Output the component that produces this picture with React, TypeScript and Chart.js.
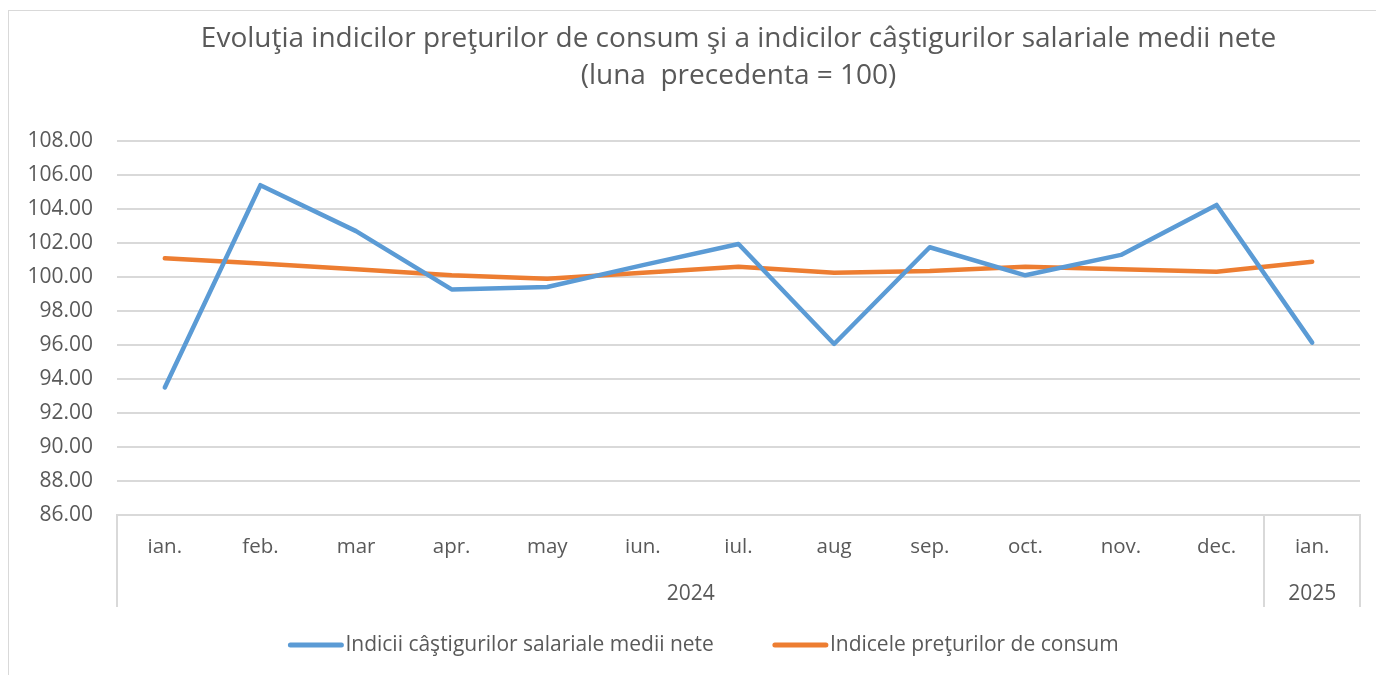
import React, { useEffect, useRef } from "react";
import { Chart, registerables } from "chart.js";

Chart.register(...registerables);

const months = ["ian.", "feb.", "mar", "apr.", "may", "iun.", "iul.", "aug", "sep.", "oct.", "nov.", "dec.", "ian."];
const yearLabels = ["2024", "2025"];
const yearSpans = [12, 1];

const wageIndex = [93.5, 105.4, 102.7, 99.27, 99.41, 100.7, 101.94, 96.06, 101.75, 100.1, 101.3, 104.24, 96.14];
const cpiIndex = [101.1, 100.8, 100.45, 100.1, 99.9, 100.25, 100.6, 100.25, 100.35, 100.6, 100.45, 100.31, 100.9];

const seriesNames = ["Indicii câştigurilor salariale medii nete", "Indicele preţurilor de consum"];
const titleLines = [
  "Evoluţia indicilor preţurilor de consum şi a indicilor câştigurilor salariale medii nete",
  "(luna  precedenta = 100)",
];

const TEXT = "#595959";
const GRID = "#d9d9d9";
const FONT = "'Open Sans'";

const groupAxisPlugin = {
  id: "groupAxis",
  afterDraw(chart: any) {
    const ctx = chart.ctx;
    const xs = chart.scales.x;
    const ca = chart.chartArea;
    const top = xs.top;
    const bottom = xs.bottom;
    const n = months.length;
    const boundaries: number[] = [xs.left];
    let idx = 0;
    yearSpans.forEach((span) => {
      idx += span;
      const px = idx >= n ? xs.right : (xs.getPixelForValue(idx - 1) + xs.getPixelForValue(idx)) / 2;
      boundaries.push(px);
    });
    ctx.save();
    ctx.strokeStyle = GRID;
    ctx.lineWidth = 2;
    boundaries.forEach((b) => {
      ctx.beginPath();
      ctx.moveTo(Math.round(b), top);
      ctx.lineTo(Math.round(b), bottom);
      ctx.stroke();
    });
    ctx.fillStyle = TEXT;
    ctx.font = `21px ${FONT}`;
    ctx.textAlign = "center";
    ctx.textBaseline = "middle";
    yearLabels.forEach((lab, i) => {
      const cx = (boundaries[i] + boundaries[i + 1]) / 2;
      ctx.fillText(lab, cx, top + 79);
    });

    // title, centred over the plot area
    ctx.font = `28px ${FONT}`;
    ctx.fillStyle = TEXT;
    ctx.textAlign = "center";
    ctx.textBaseline = "middle";
    const tcx = (ca.left + ca.right) / 2;
    titleLines.forEach((t, i) => {
      ctx.fillText(t, tcx, 28 + i * 37);
    });

    // legend
    const lineW = 55;
    const gapText = 2;
    const gapItems = 59;
    ctx.font = `21px ${FONT}`;
    const widths = chart.data.datasets.map((d: any) => lineW + gapText + ctx.measureText(d.label).width);
    const total = widths.reduce((a: number, b: number) => a + b, 0) + gapItems * (widths.length - 1);
    let x = chart.width / 2 + 7 - total / 2;
    const ly = bottom + 38;
    chart.data.datasets.forEach((d: any, i: number) => {
      ctx.strokeStyle = d.borderColor;
      ctx.lineWidth = 5;
      ctx.lineCap = "round";
      ctx.beginPath();
      ctx.moveTo(x + 2, ly);
      ctx.lineTo(x + lineW - 2, ly);
      ctx.stroke();
      ctx.fillStyle = TEXT;
      ctx.textAlign = "left";
      ctx.textBaseline = "middle";
      ctx.fillText(d.label, x + lineW + gapText, ly);
      x += widths[i] + gapItems;
    });
    ctx.restore();
  },
};

export default function App() {
  const ref = useRef<HTMLCanvasElement>(null);
  useEffect(() => {
    document.documentElement.style.overflow = "hidden";
    document.body.style.overflow = "hidden";
    const chart = new Chart(ref.current as HTMLCanvasElement, {
      type: "line",
      data: {
        labels: months,
        datasets: [
          {
            label: seriesNames[0],
            data: wageIndex,
            borderColor: "#5B9BD5",
            backgroundColor: "#5B9BD5",
            borderWidth: 4.5,
            borderCapStyle: "round",
            borderJoinStyle: "round",
            pointRadius: 0,
            tension: 0,
          },
          {
            label: seriesNames[1],
            data: cpiIndex,
            borderColor: "#ED7D31",
            backgroundColor: "#ED7D31",
            borderWidth: 4.5,
            borderCapStyle: "round",
            borderJoinStyle: "round",
            pointRadius: 0,
            tension: 0,
          },
        ],
      },
      options: {
        animation: false,
        responsive: false,
        layout: { padding: { left: 0, right: 24, top: 130, bottom: 68 } },
        plugins: {
          legend: { display: false },
          tooltip: { enabled: false },
          title: { display: false },
        },
        scales: {
          x: {
            type: "category",
            offset: true,
            grid: { display: false, drawTicks: false },
            border: { display: true, color: GRID, width: 2 },
            ticks: {
              color: TEXT,
              font: { family: FONT, size: 20.5 },
              padding: 20,
              maxRotation: 0,
              autoSkip: false,
            },
            afterFit: (scale: any) => {
              scale.height = 92;
            },
          },
          y: {
            min: 86,
            max: 108,
            grid: { color: GRID, lineWidth: 2, drawTicks: false },
            border: { display: false },
            ticks: {
              stepSize: 2,
              color: TEXT,
              font: { family: FONT, size: 21 },
              padding: 24,
              callback: (v: any) => Number(v).toFixed(2),
            },
            afterFit: (scale: any) => {
              scale.width = 108;
            },
          },
        },
      },
      plugins: [groupAxisPlugin],
    });
    return () => chart.destroy();
  }, []);
  return (
    <div
      style={{
        marginTop: 2,
        borderTop: `1px solid ${GRID}`,
        borderLeft: `1px solid ${GRID}`,
        width: 1375,
        height: 664,
      }}
    >
      <canvas ref={ref} width={1375} height={664} style={{ display: "block" }} />
    </div>
  );
}
